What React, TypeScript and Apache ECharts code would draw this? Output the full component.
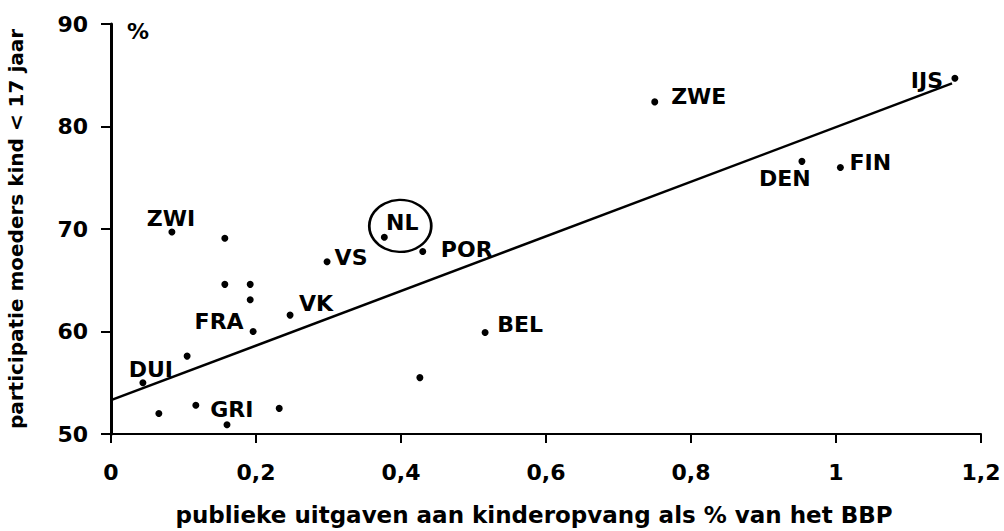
import React, { useEffect, useRef } from "react";
import * as echarts from "echarts";

// Countries (labelled points)
const labelNames = ["ZWI", "FRA", "DUI", "GRI", "VK", "VS", "NL", "POR", "BEL", "ZWE", "IJS", "DEN", "FIN"];
const labelX = [0.084, 0.196, 0.044, 0.117, 0.247, 0.298, 0.377, 0.43, 0.516, 0.75, 1.164, 0.953, 1.006];
const labelY = [69.7, 60.0, 55.0, 52.8, 61.6, 66.8, 69.2, 67.8, 59.9, 82.4, 84.7, 76.6, 76.0];

// Unlabelled points
const otherX = [0.157, 0.157, 0.192, 0.192, 0.105, 0.066, 0.232, 0.16, 0.426];
const otherY = [69.1, 64.6, 64.6, 63.1, 57.6, 52.0, 52.5, 50.9, 55.5];

// Trend line end points
const trendX = [0, 1.16];
const trendY = [53.3, 84.2];

// Highlighted country (circle)
const highlightX = [0.399];
const highlightY = [70.3];

const xTicks = { min: 0, max: 1.2, interval: 0.2 };
const yTicks = { min: 50, max: 90, interval: 10 };

const xTitle = "publieke uitgaven aan kinderopvang als % van het BBP";
const yTitle = "participatie moeders kind < 17 jaar";
const unitLabel = "%";

// label offsets (text centre relative to the point), styling only
const labelOffsets: Record<string, [number, number]> = {
  ZWI: [-1, -14],
  FRA: [-34, -10],
  DUI: [8, -13],
  GRI: [36, 4],
  VK: [26, -12],
  VS: [24, -4],
  NL: [18, -15],
  POR: [44, -2],
  BEL: [35, -8],
  ZWE: [44, -5],
  IJS: [-28, 2],
  DEN: [-17, 17],
  FIN: [30, -5],
};

const FONT = "DejaVu Sans";

export default function App() {
  const ref = useRef<HTMLDivElement>(null);

  useEffect(() => {
    if (!ref.current) return;
    const chart = echarts.init(ref.current, undefined, { renderer: "svg" });

    const fmt = (v: number) => String(Math.round(v * 10) / 10).replace(".", ",");

    const labelled = labelNames.map((n, i) => ({
      name: n,
      value: [labelX[i], labelY[i]],
      label: {
        show: true,
        position: "inside",
        offset: labelOffsets[n],
        formatter: n,
        color: "#000",
        opacity: 1,
        textBorderWidth: 0,
        textBorderColor: "transparent",
        fontFamily: FONT,
        fontWeight: "bold",
        fontSize: 22,
      },
    }));

    const others = otherX.map((x, i) => [x, otherY[i]]);

    chart.setOption({
      animation: false,
      backgroundColor: "#fff",
      grid: { left: 111, right: 23, top: 24, bottom: 97, outerBoundsMode: "none", containLabel: false },
      xAxis: {
        type: "value",
        min: xTicks.min,
        max: xTicks.max,
        interval: xTicks.interval,
        name: xTitle,
        nameLocation: "middle",
        nameGap: 69,
        nameTextStyle: {
          color: "#000",
          fontFamily: FONT,
          fontWeight: "bold",
          fontSize: 23,
          padding: [0, 24, 0, 0],
        },
        axisLine: { show: true, lineStyle: { color: "#000", width: 2 } },
        axisTick: { show: true, inside: false, length: 9, lineStyle: { color: "#000", width: 2 } },
        axisLabel: {
          color: "#000",
          fontFamily: FONT,
          fontWeight: "bold",
          fontSize: 22,
          margin: 27,
          formatter: fmt,
        },
        splitLine: { show: false },
      },
      yAxis: {
        type: "value",
        min: yTicks.min,
        max: yTicks.max,
        interval: yTicks.interval,
        name: yTitle,
        nameLocation: "middle",
        nameGap: 85,
        nameRotate: 90,
        nameTextStyle: {
          color: "#000",
          fontFamily: FONT,
          fontWeight: "bold",
          fontSize: 20,
        },
        axisLine: { show: true, lineStyle: { color: "#000", width: 3 } },
        axisTick: { show: true, inside: false, length: 10, lineStyle: { color: "#000", width: 2 } },
        axisLabel: {
          color: "#000",
          fontFamily: FONT,
          fontWeight: "bold",
          fontSize: 22,
          margin: 23,
        },
        splitLine: { show: false },
      },
      graphic: [
        {
          type: "text",
          left: 127,
          top: 20,
          style: {
            text: unitLabel,
            fill: "#000",
            font: `bold 22px "${FONT}"`,
          },
        },
      ],
      series: [
        {
          type: "line",
          data: trendX.map((x, i) => [x, trendY[i]]),
          symbol: "none",
          lineStyle: { color: "#000", width: 2.5 },
          z: 1,
        },
        {
          type: "scatter",
          data: others,
          symbol: "circle",
          symbolSize: 7,
          itemStyle: { color: "#000", opacity: 1 },
          z: 3,
        },
        {
          type: "scatter",
          data: labelled,
          symbol: "circle",
          symbolSize: 7,
          itemStyle: { color: "#000", opacity: 1 },
          z: 3,
        },
        {
          type: "scatter",
          data: highlightX.map((x, i) => [x, highlightY[i]]),
          symbol: "circle",
          symbolSize: [62, 52],
          itemStyle: { color: "rgba(0,0,0,0)", borderColor: "#000", borderWidth: 2.5, opacity: 1 },
          z: 2,
        },
      ],
    });

    return () => chart.dispose();
  }, []);

  return <div ref={ref} style={{ width: 1004, height: 531, position: "absolute", left: 0, top: 0 }} />;
}
